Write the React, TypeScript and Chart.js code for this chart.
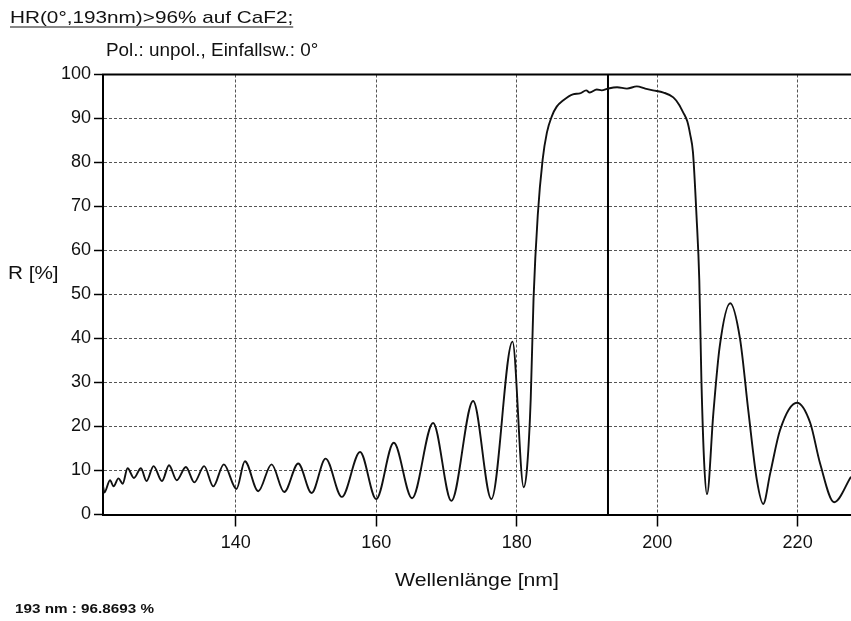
import React, { useEffect, useRef } from "react";
import { Chart, registerables } from "chart.js";

Chart.register(...registerables);

const titleText = "HR(0°,193nm)>96% auf CaF2;";
const subtitleText = "Pol.: unpol., Einfallsw.: 0°";
const yAxisLabel = "R [%]";
const xAxisLabel = "Wellenlänge [nm]";
const noteText = "193 nm : 96.8693 %";

const xTicks = [140, 160, 180, 200, 220];
const markerWavelength = [193, 193];
const markerValue = [0, 100];

const wavelengths = [
  121.1, 121.3, 122.1, 122.6, 123.3, 123.9, 124.6, 125.5, 126.5, 127.3,
  128.3, 129.5, 130.5, 131.6, 132.9, 134.1, 135.5, 136.8, 138.3, 140.1,
  141.3, 143.2, 145.1, 146.9, 148.9, 150.8, 152.8, 155.1, 157.7, 160.0,
  162.5, 165.1, 168.1, 170.7, 173.8, 176.4, 179.4, 181.0, 181.5, 182.0,
  182.4, 183.0, 183.7, 184.3, 185.0, 185.7, 186.6, 188.0, 189.0, 189.9,
  190.4, 191.4, 192.1, 193.0, 194.3, 195.7, 197.1, 198.3, 199.4, 200.9,
  202.3, 203.1, 203.7, 204.3, 204.7, 205.1, 205.6, 206.0, 206.3, 206.7,
  207.1, 208.0, 208.9, 210.4, 211.8, 213.0, 214.2, 215.1, 216.1, 217.5,
  219.9, 221.8, 223.2, 225.2, 227.6,
];

const reflectance = [
  6.5, 5.0, 7.8, 6.4, 8.2, 7.0, 10.5, 8.3, 10.5, 7.6,
  11.0, 7.6, 11.2, 7.8, 10.8, 7.3, 11.0, 6.4, 11.4, 5.8,
  12.1, 5.3, 11.4, 5.1, 11.6, 4.9, 12.7, 4.0, 14.2, 3.5,
  16.3, 3.7, 20.8, 3.1, 25.8, 3.5, 39.3, 6.2, 11.1, 26.3,
  49.0, 68.0, 80.7, 86.8, 90.5, 92.7, 94.1, 95.5, 95.7, 96.4,
  95.9, 96.6, 96.4, 96.8, 97.1, 96.8, 97.3, 96.8, 96.4, 95.9,
  94.8, 93.2, 91.4, 89.3, 86.4, 82.3, 68.0, 53.3, 30.6, 11.6,
  4.6, 23.0, 38.1, 48.0, 39.9, 23.3, 7.8, 2.4, 9.4, 19.2,
  25.4, 20.8, 11.6, 2.8, 8.6,
];

const FONT = "'Liberation Sans', Arial, Helvetica, sans-serif";

function drawText(
  ctx: CanvasRenderingContext2D,
  text: string,
  x: number,
  y: number,
  font: string,
  sx: number,
  align: "left" | "center" = "left"
) {
  ctx.save();
  ctx.font = font;
  ctx.fillStyle = "#111";
  ctx.textBaseline = "alphabetic";
  const w = ctx.measureText(text).width * sx;
  const startX = align === "center" ? x - w / 2 : x;
  ctx.translate(startX, y);
  ctx.scale(sx, 1);
  ctx.textAlign = "left";
  ctx.fillText(text, 0, 0);
  ctx.restore();
  return { startX, w };
}

const textPlugin = {
  id: "textPlugin",
  afterDraw(chart: any) {
    const ctx: CanvasRenderingContext2D = chart.ctx;
    const area = chart.chartArea;
    // top frame line
    ctx.save();
    ctx.strokeStyle = "#000";
    ctx.lineWidth = 2;
    ctx.beginPath();
    ctx.moveTo(area.left - 1, area.top);
    ctx.lineTo(area.right, area.top);
    ctx.stroke();
    ctx.restore();

    const t = drawText(ctx, titleText, 10, 23, `17px ${FONT}`, 1.22);
    ctx.save();
    ctx.strokeStyle = "#111";
    ctx.lineWidth = 1.2;
    ctx.beginPath();
    ctx.moveTo(t.startX, 27);
    ctx.lineTo(t.startX + t.w, 27);
    ctx.stroke();
    ctx.restore();

    drawText(ctx, subtitleText, 106, 56, `18px ${FONT}`, 1.05);
    drawText(ctx, yAxisLabel, 8, 279, `18px ${FONT}`, 1.15);
    drawText(ctx, xAxisLabel, 477, 586, `19px ${FONT}`, 1.12, "center");
    drawText(ctx, noteText, 15, 613, `bold 12.5px ${FONT}`, 1.22);
  },
};

export default function App() {
  const canvasRef = useRef<HTMLCanvasElement | null>(null);

  useEffect(() => {
    document.body.style.margin = "0";
    const canvas = canvasRef.current;
    if (!canvas) return;

    const curve = wavelengths.map((x, i) => ({ x, y: reflectance[i] }));
    const marker = markerWavelength.map((x, i) => ({ x, y: markerValue[i] }));

    const chart = new Chart(canvas, {
      type: "line",
      data: {
        datasets: [
          {
            data: curve,
            borderColor: "#111",
            borderWidth: 1.9,
            pointRadius: 0,
            cubicInterpolationMode: "monotone",
            fill: false,
          },
          {
            data: marker,
            borderColor: "#000",
            borderWidth: 2,
            pointRadius: 0,
            fill: false,
          },
        ],
      },
      options: {
        responsive: false,
        animation: false,
        devicePixelRatio: 1,
        layout: { padding: { top: 74.5, left: 0, right: 0, bottom: 0 } },
        plugins: {
          legend: { display: false },
          tooltip: { enabled: false },
          title: { display: false },
        },
        scales: {
          x: {
            type: "linear",
            min: 121.1,
            max: 227.6,
            afterBuildTicks: (scale: any) => {
              scale.ticks = xTicks.map((v) => ({ value: v }));
            },
            afterFit: (scale: any) => {
              scale.height = 106.5;
            },
            ticks: {
              font: { family: FONT, size: 18 },
              color: "#111",
              padding: 6,
              maxRotation: 0,
              autoSkip: false,
            },
            grid: {
              color: "#555",
              lineWidth: 1,
              tickLength: 12,
              tickColor: "#000",
              tickWidth: 1.5,
            },
            border: { display: true, color: "#000", width: 2, dash: [3, 2] },
          },
          y: {
            min: 0,
            max: 100,
            afterFit: (scale: any) => {
              scale.width = 103;
            },
            ticks: {
              stepSize: 10,
              font: { family: FONT, size: 18 },
              color: "#111",
              padding: 3,
            },
            grid: {
              color: "#555",
              lineWidth: 1,
              tickLength: 9,
              tickColor: "#000",
              tickWidth: 1.5,
            },
            border: { display: true, color: "#000", width: 2, dash: [3, 2] },
          },
        },
      },
      plugins: [textPlugin],
    } as any);

    return () => chart.destroy();
  }, []);

  return (
    <div style={{ width: 851, height: 621, background: "#fff" }}>
      <canvas ref={canvasRef} width={851} height={621} style={{ display: "block" }} />
    </div>
  );
}
